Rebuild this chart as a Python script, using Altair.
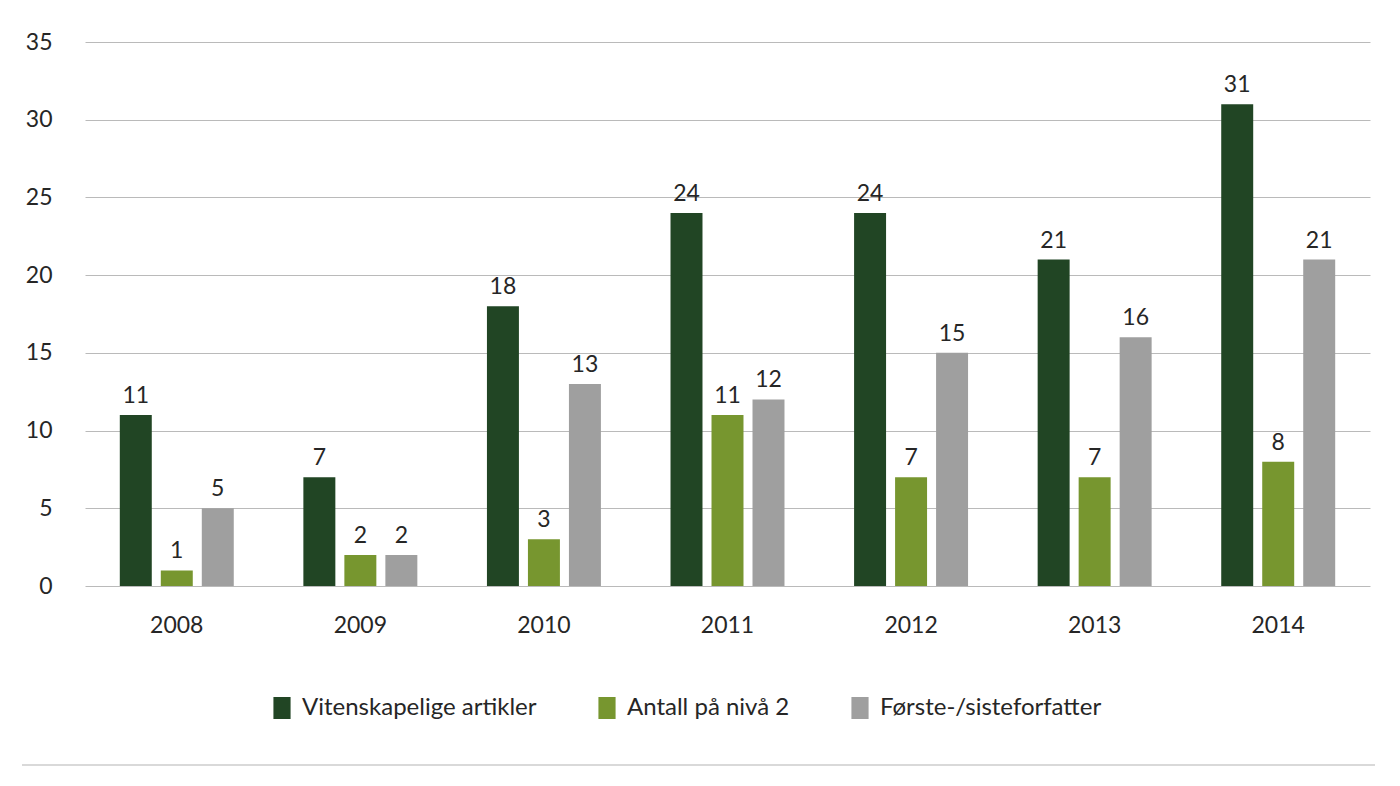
import altair as alt
import pandas as pd

years = ["2008", "2009", "2010", "2011", "2012", "2013", "2014"]
series = ["Vitenskapelige artikler", "Antall på nivå 2", "Første-/sisteforfatter"]
vitenskapelige = [11, 7, 18, 24, 24, 21, 31]
niva2 = [1, 2, 3, 11, 7, 7, 8]
forste_siste = [5, 2, 13, 12, 15, 16, 21]
colors = ["#214524", "#77962F", "#9F9F9F"]

rows = []
for i, y in enumerate(years):
    for s, vals in zip(series, [vitenskapelige, niva2, forste_siste]):
        rows.append({"År": y, "Serie": s, "Antall": vals[i]})
df = pd.DataFrame(rows)

FONT = "Lato"
W, H = 1285, 544
TXT = "#262626"

base = alt.Chart(df).encode(
    x=alt.X("År:N", sort=years,
            scale=alt.Scale(paddingInner=0.33, paddingOuter=0.165),
            axis=alt.Axis(title=None, labelAngle=0, domain=False, ticks=False,
                          grid=False, labelPadding=28, labelFontSize=23,
                          labelColor=TXT, labelFont=FONT)),
    xOffset=alt.XOffset("Serie:N", sort=series,
                        scale=alt.Scale(paddingInner=0.22, paddingOuter=0.11)),
)

bars = base.mark_bar().encode(
    y=alt.Y("Antall:Q",
            scale=alt.Scale(domain=[0, 35]),
            axis=alt.Axis(title=None, values=[0, 5, 10, 15, 20, 25, 30, 35],
                          domain=False, ticks=False, labelPadding=33,
                          labelFontSize=23, labelColor=TXT, labelFont=FONT,
                          gridColor="#BABABA", gridWidth=1)),
    color=alt.Color("Serie:N", sort=series,
                    scale=alt.Scale(domain=series, range=colors),
                    legend=alt.Legend(title=None, orient="none", direction="horizontal",
                                      legendX=185, legendY=654,
                                      symbolType="M-0.78,-1H0.78V1H-0.78Z",
                                      symbolSize=484,
                                      symbolStrokeWidth=0, labelLimit=0,
                                      labelFontSize=24, labelFont=FONT,
                                      labelColor=TXT, columnPadding=58,
                                      labelOffset=8)),
)

labels = base.mark_text(baseline="bottom", dy=-7, fontSize=23, font=FONT,
                        color=TXT).encode(
    y=alt.Y("Antall:Q"),
    text=alt.Text("Antall:Q"),
)

bottom_line = alt.Chart(pd.DataFrame({"a": [0]})).mark_rule(
    color="#D9D9D9", strokeWidth=2).encode(
    x=alt.value(-63), x2=alt.value(1290), y=alt.value(723)
)

chart = alt.layer(bars, labels, bottom_line).properties(
    width=W, height=H,
    autosize=alt.AutoSizeParams(type="none"),
    padding={"left": 85, "top": 42, "right": 30, "bottom": 200},
    background="white",
).configure_view(stroke=None)

chart.save("out.html", embed_options={"renderer": "svg", "actions": False})
